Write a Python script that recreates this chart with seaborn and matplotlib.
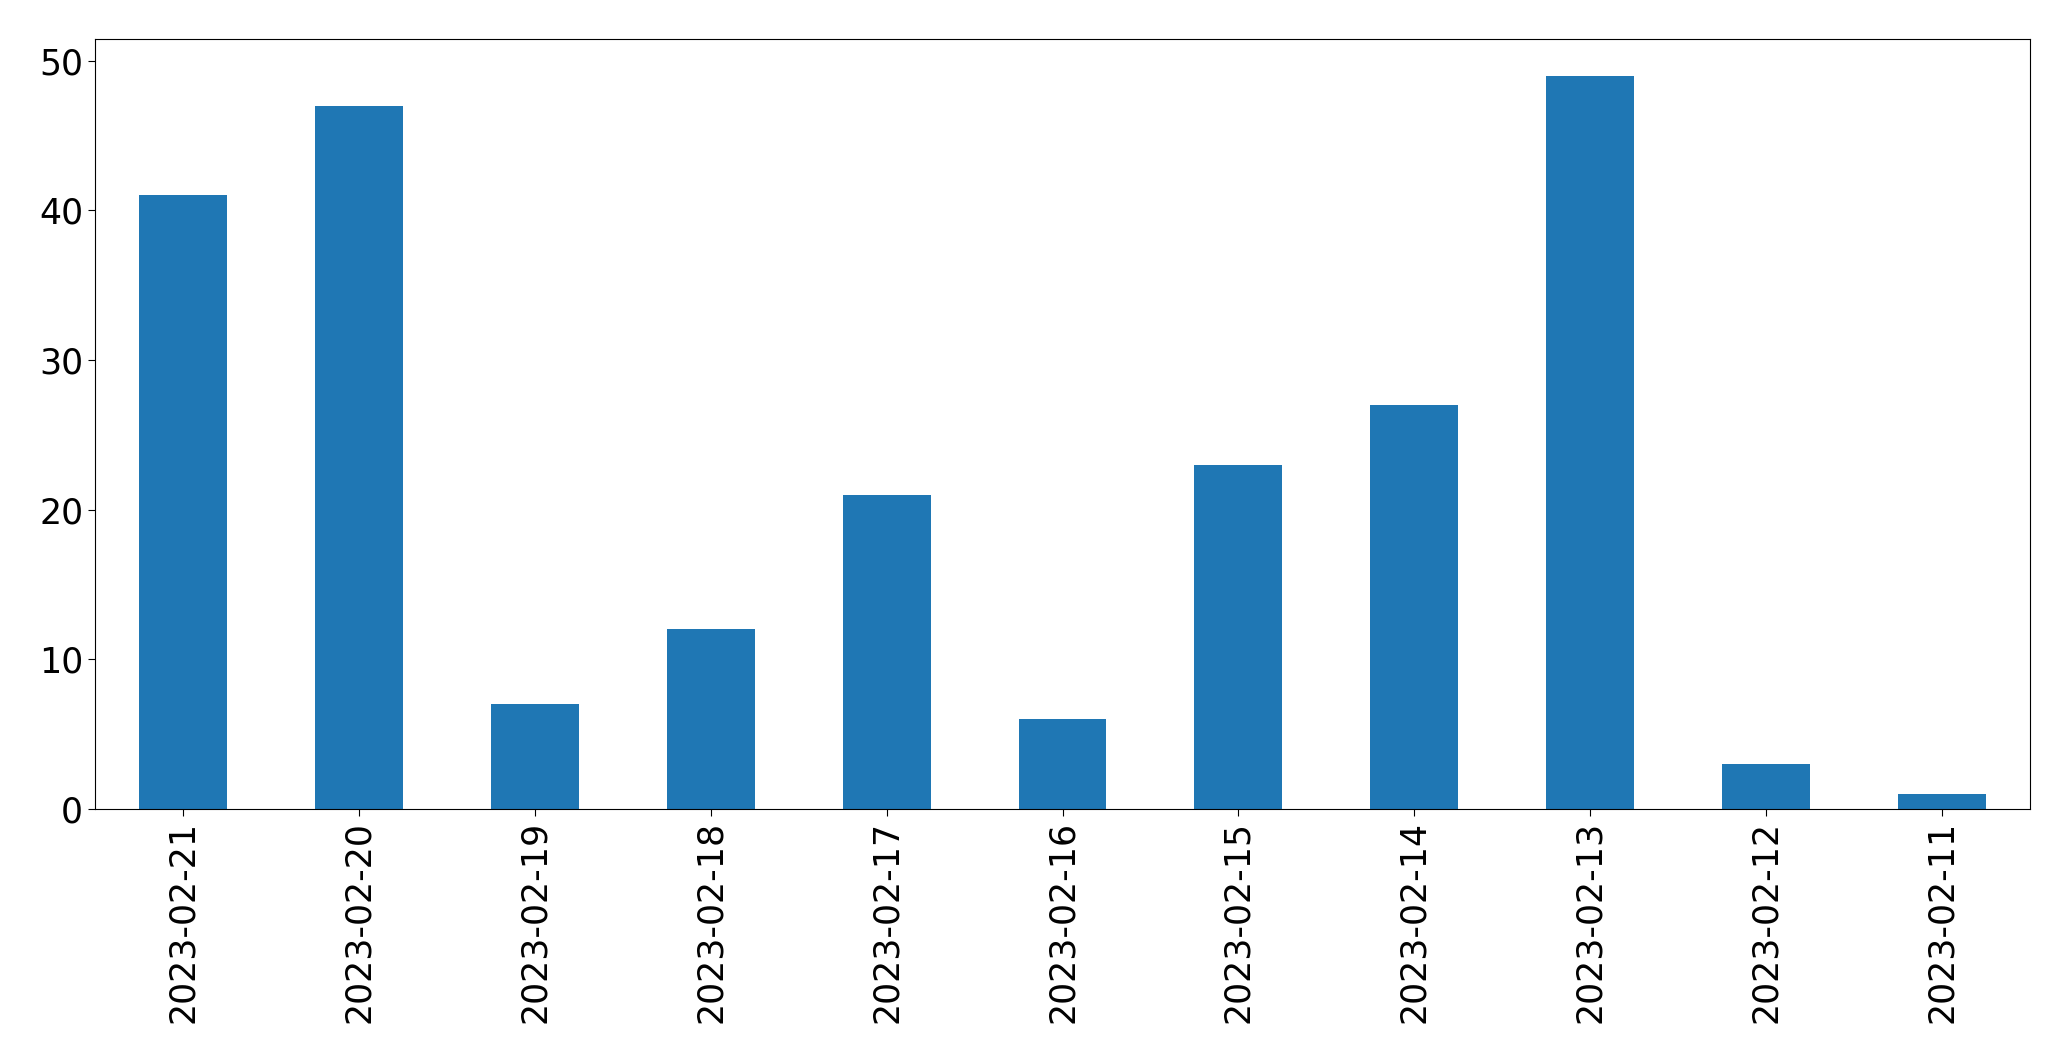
import matplotlib
matplotlib.use("Agg")
import matplotlib.pyplot as plt
import seaborn as sns
import pandas as pd

# data
dates = [
    "2023-02-21", "2023-02-20", "2023-02-19", "2023-02-18",
    "2023-02-17", "2023-02-16", "2023-02-15", "2023-02-14",
    "2023-02-13", "2023-02-12", "2023-02-11"
]
counts = [41, 47, 7, 12, 21, 6, 23, 27, 49, 3, 1]

df = pd.DataFrame({"date": dates, "count": counts})

fig = plt.figure(figsize=(20.71, 10.61), dpi=100)
ax = fig.add_axes([95 / 2071, 1 - 809 / 1061, (2030 - 95) / 2071, (809 - 39) / 1061])

sns.barplot(
    data=df,
    x="date",
    y="count",
    color="#1f77b4",
    saturation=1,
    width=0.5,
    order=dates,
    linewidth=0,
    ax=ax
)

ax.set_xlim(-0.5, len(dates) - 0.5)
ax.set_ylim(0, max(counts) * 1.05)
ax.set_xlabel("")
ax.set_ylabel("")
ax.tick_params(axis="both", labelsize=25, length=5)
plt.setp(ax.get_xticklabels(), rotation=90)

fig.savefig("out.png", dpi=100)
